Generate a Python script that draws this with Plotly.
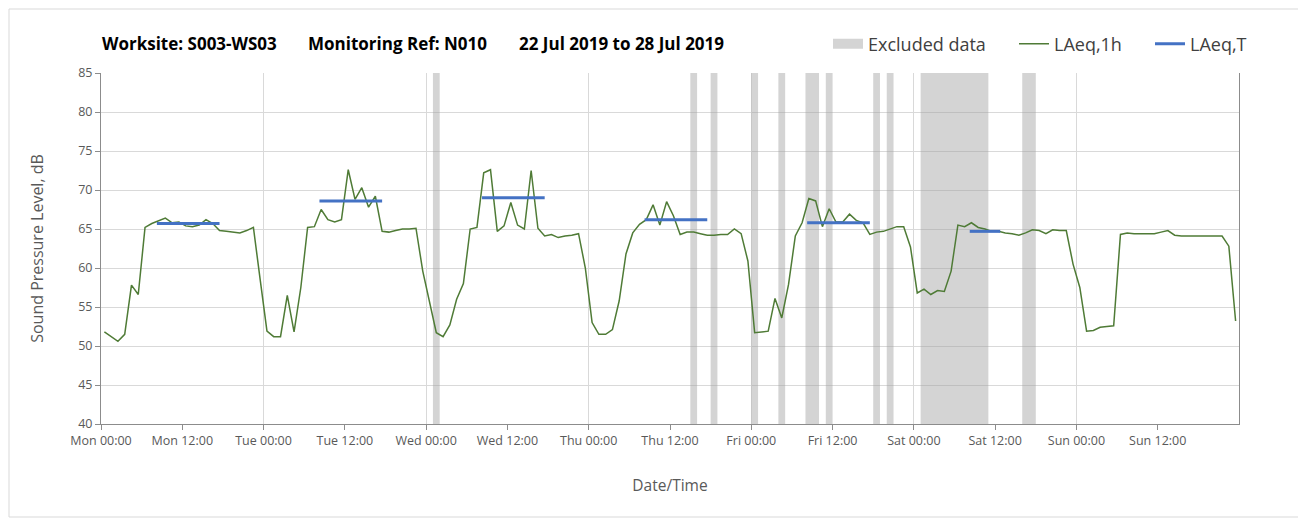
import pandas as pd
import plotly.graph_objects as go

# ---------------- data ----------------
series_start = "2019-07-22 00:30"
laeq_1h = [
    51.8, 51.2, 50.6, 51.5, 57.8, 56.6, 65.2, 65.7, 66.0, 66.4, 65.8, 65.9,
    65.4, 65.3, 65.5, 66.2, 65.7, 64.8, 64.7, 64.6, 64.5, 64.8, 65.2, 58.5,
    51.9, 51.2, 51.2, 56.5, 51.8, 57.5, 65.2, 65.3, 67.5, 66.2, 65.9, 66.2,
    72.6, 68.8, 70.3, 67.8, 69.2, 64.7, 64.6, 64.8, 65.0, 65.0, 65.1, 59.6,
    55.8, 51.7, 51.2, 52.7, 56.0, 58.0, 65.0, 65.2, 72.2, 72.6, 64.7, 65.4,
    68.4, 65.5, 65.0, 72.5, 65.1, 64.1, 64.3, 63.9, 64.1, 64.2, 64.4, 60.0,
    53.0, 51.5, 51.5, 52.1, 55.8, 61.8, 64.5, 65.6, 66.2, 68.1, 65.5, 68.5,
    66.7, 64.3, 64.6, 64.6, 64.4, 64.2, 64.2, 64.3, 64.3, 65.0, 64.4, 60.9,
    51.7, 51.8, 51.9, 56.1, 53.6, 57.9, 64.1, 65.8, 68.9, 68.6, 65.3, 67.6,
    65.9, 65.9, 66.9, 66.1, 65.8, 64.3, 64.6, 64.7, 65.0, 65.3, 65.3, 62.7,
    56.8, 57.3, 56.6, 57.1, 57.0, 59.6, 65.5, 65.3, 65.8, 65.2, 65.0, 64.7,
    64.7, 64.5, 64.4, 64.2, 64.5, 64.9, 64.8, 64.4, 64.9, 64.8, 64.8, 60.5,
    57.5, 51.9, 52.0, 52.4, 52.5, 52.6, 64.3, 64.5, 64.4, 64.4, 64.4, 64.4,
    64.6, 64.8, 64.2, 64.1, 64.1, 64.1, 64.1, 64.1, 64.1, 64.1, 62.8, 53.2,
]

laeqT_start = ["2019-07-22 08:15", "2019-07-23 08:15", "2019-07-24 08:15",
               "2019-07-25 08:15", "2019-07-26 08:15", "2019-07-27 08:15"]
laeqT_end = ["2019-07-22 17:30", "2019-07-23 17:30", "2019-07-24 17:30",
             "2019-07-25 17:30", "2019-07-26 17:30", "2019-07-27 12:45"]
laeqT_value = [65.7, 68.6, 69.0, 66.2, 65.8, 64.7]

excl_start = ["2019-07-24 01:00", "2019-07-25 15:00", "2019-07-25 18:00",
              "2019-07-26 00:00", "2019-07-26 04:00", "2019-07-26 08:00",
              "2019-07-26 11:00", "2019-07-26 18:00", "2019-07-26 20:00",
              "2019-07-27 01:00", "2019-07-27 16:00"]
excl_end = ["2019-07-24 02:00", "2019-07-25 16:00", "2019-07-25 19:00",
            "2019-07-26 01:00", "2019-07-26 05:00", "2019-07-26 10:00",
            "2019-07-26 12:00", "2019-07-26 19:00", "2019-07-26 21:00",
            "2019-07-27 11:00", "2019-07-27 18:00"]

x_range = ["2019-07-22 00:00", "2019-07-29 00:00"]
x_tick_start = "2019-07-22 00:00"
x_tick_count = 14            # Mon 00:00 ... Sun 12:00, every 12 h
y_range = [40, 85]

title_parts = ["Worksite: S003-WS03", "Monitoring Ref: N010",
               "22 Jul 2019 to 28 Jul 2019"]

# ---------------- derived ----------------
times = pd.date_range(series_start, periods=len(laeq_1h), freq="h")
x_ticks = pd.date_range(x_tick_start, periods=x_tick_count, freq="12h")

ex_s = pd.to_datetime(excl_start)
ex_e = pd.to_datetime(excl_end)
ex_center = ex_s + (ex_e - ex_s) / 2
ex_width = [(e - s).total_seconds() * 1000 for s, e in zip(ex_s, ex_e)]

bx, by = [], []
for s, e, v in zip(laeqT_start, laeqT_end, laeqT_value):
    bx += [s, e, None]
    by += [v, v, None]

FONT = "Open Sans"
GREEN = "#4f7b36"
BLUE = "#4472c4"
GREY_BAND = "rgba(159,159,159,0.45)"
GRID = "#d9d9d9"
AXIS = "#8c8c8c"
TXT = "#595959"

# page pixels -> figure (the page body has an 8px margin)
OFF = 8
PAGE_W, PAGE_H = 1306, 520
W, H = PAGE_W - OFF, PAGE_H - OFF
L, R, T, B = 101, 1239, 73, 424          # plot area in page pixels


def px(xp):
    return (xp - L) / (R - L)


def py(yp):
    return (B - yp) / (B - T)


fig = go.Figure()

fig.add_trace(go.Bar(
    x=ex_center, y=[y_range[1] - y_range[0]] * len(ex_center), base=y_range[0],
    width=ex_width, marker=dict(color=GREY_BAND, line=dict(width=0)),
    showlegend=False, hoverinfo="skip",
))
fig.add_trace(go.Scatter(
    x=[None], y=[None], mode="lines", name="Excluded data",
    line=dict(color=GREY_BAND, width=12), legend="legend",
))
fig.add_trace(go.Scatter(
    x=times, y=laeq_1h, mode="lines", name="LAeq,1h",
    line=dict(color=GREEN, width=1.5), xaxis="x2", legend="legend2",
))
fig.add_trace(go.Scatter(
    x=bx, y=by, mode="lines", name="LAeq,T", connectgaps=False,
    line=dict(color=BLUE, width=3), xaxis="x2", legend="legend3",
))

legend_common = dict(orientation="h", xanchor="left", yanchor="middle",
                     y=py(44), bgcolor="rgba(0,0,0,0)", borderwidth=0,
                     font=dict(family=FONT, size=18, color="#404040"))

fig.update_layout(
    width=W, height=H,
    margin=dict(l=L - OFF, r=PAGE_W - R, t=T - OFF, b=PAGE_H - B),
    paper_bgcolor="white", plot_bgcolor="white",
    font=dict(family=FONT, color=TXT),
    barmode="overlay",
    xaxis=dict(
        type="date", range=x_range, tickmode="array", tickvals=x_ticks,
        tickformat="%a %H:%M", showgrid=False, zeroline=False,
        showline=True, linecolor=AXIS, linewidth=1,
        ticks="outside", ticklen=5, tickcolor=AXIS,
        tickfont=dict(family=FONT, size=12.5, color=TXT),
        title=dict(text="Date/Time", standoff=32,
                   font=dict(family=FONT, size=15.5, color=TXT)),
    ),
    xaxis2=dict(
        type="date", overlaying="x", matches="x", range=x_range,
        tick0=x_tick_start, dtick=24 * 3600 * 1000,
        showgrid=True, gridcolor=GRID, gridwidth=1,
        showticklabels=False, ticks="", showline=False, zeroline=False,
    ),
    yaxis=dict(
        range=y_range, dtick=5, showgrid=True, gridcolor=GRID, gridwidth=1,
        zeroline=False, showline=True, mirror=True, linecolor=AXIS, linewidth=1,
        ticks="outside", ticklen=5, tickcolor=AXIS,
        tickfont=dict(family=FONT, size=12.5, color=TXT),
        title=dict(text="Sound Pressure Level, dB", standoff=30,
                   font=dict(family=FONT, size=16, color=TXT)),
    ),
    legend=dict(x=px(828), **legend_common),
    legend2=dict(x=px(1014), **legend_common),
    legend3=dict(x=px(1150), **legend_common),
    shapes=[dict(type="rect", xref="paper", yref="paper",
                 x0=px(9), x1=px(1302), y0=py(517), y1=py(9),
                 line=dict(color=GRID, width=1), fillcolor="rgba(0,0,0,0)")],
    annotations=[
        dict(text="<b>%s</b>" % t, xref="paper", yref="paper",
             x=px(xp), y=py(44), xanchor="left", yanchor="middle",
             showarrow=False, font=dict(family=FONT, size=17, color="#000000"))
        for t, xp in zip(title_parts, [100, 306, 517])
    ],
)

fig.write_html("out.html")
